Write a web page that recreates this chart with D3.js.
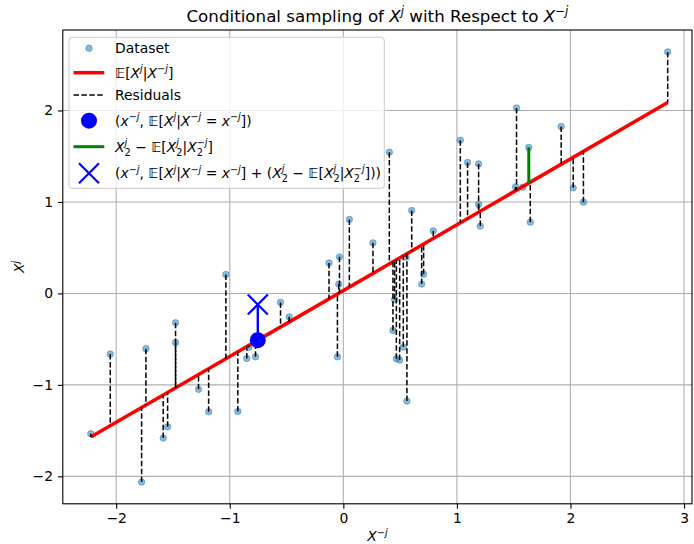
<!DOCTYPE html>
<html>
<head>
<meta charset="utf-8">
<script src="https://cdn.jsdelivr.net/npm/d3@7"></script>
<style>
  body { margin: 0; background: #fff; }
  text { font-family: "DejaVu Sans", sans-serif; }
</style>
</head>
<body>
<div id="chart"></div>
<script>
// Data
var xVals = [-2.224, -2.052, -1.776, -1.738, -1.586, -1.547, -1.477, -1.477, -1.275, -1.186,
             -1.034, -0.929, -0.850, -0.832, -0.773, -0.553, -0.477, -0.126, -0.052, -0.040,
             -0.034, 0.053, 0.261, 0.405, 0.437, 0.452, 0.467, 0.496, 0.528, 0.553,
             0.560, 0.602, 0.690, 0.707, 0.792, 1.030, 1.094, 1.191, 1.191, 1.206,
             1.516, 1.525, 1.581, 1.633, 1.646, 1.918, 2.024, 2.114, 2.856];
var yVals = [-1.534, -0.663, -2.062, -0.605, -1.581, -1.458, -0.321, -0.536, -1.049, -1.294,
             0.208, -1.290, -0.711, -0.590, -0.693, -0.098, -0.256, 0.334, -0.693, 0.102,
             0.400, 0.809, 0.553, 1.544, -0.404, -0.066, -0.714, -0.729, -0.587, 0.397,
             -1.177, 0.907, 0.102, 0.211, 0.684, 1.675, 1.432, 1.416, 0.973, 0.736,
             1.165, 2.028, 1.162, 1.596, 0.779, 1.825, 1.154, 0.998, 2.640];
// fitted conditional expectation line E[X^j | X^-j]
var fitSlope = 0.72, fitIntercept = 0.031;
var sampleIdx = 43;      // the X_2 point (green residual)
var queryX = -0.753;     // x^-j where we sample
var xTicks = [-2, -1, 0, 1, 2, 3];
var yTicks = [-2, -1, 0, 1, 2];

var legendLabels = [
    'Dataset',
    '$𝔼[X^{j}|X^{-j}]$',
    'Residuals',
    '$(x^{-j}, 𝔼[X^{j}|X^{-j} = x^{-j}])$',
    '$X_{2}^{j} - 𝔼[X_{2}^{j}|X_{2}^{-j}]$',
    '$(x^{-j}, 𝔼[X^{j}|X^{-j} = x^{-j}] + (X_{2}^{j} - 𝔼[X_{2}^{j}|X_{2}^{-j}]))$'
];

var W = 694, H = 544;
var pLeft = 62.8, pRight = 692, pTop = 30, pBottom = 503.8;

var svg = d3.select('#chart').append('svg')
    .attr('width', W).attr('height', H);

var x = d3.scaleLinear().domain([-2.47, 3.07]).range([pLeft, pRight]);
var y = d3.scaleLinear().domain([-2.30, 2.88]).range([pBottom, pTop]);

function fit(v) { return fitIntercept + fitSlope * v; }

// tiny mathtext-ish renderer: $...$ math, ^{} sup, _{} sub, letters italic
function renderMath(text, str, size) {
    var toks = [], math = false, i = 0;
    while (i < str.length) {
        var c = str[i];
        if (c === '$') { math = !math; i++; continue; }
        if (math && (c === '^' || c === '_')) {
            var k = str.indexOf('}', i + 2);
            toks.push({ t: str.slice(i + 2, k), kind: c === '^' ? 'sup' : 'sub', math: true });
            i = k + 1;
        } else {
            toks.push({ t: c, kind: 'base', math: math });
            i++;
        }
    }
    var off = 0, pendingDx = 0, lastW = 0;
    toks.forEach(function(tk, n) {
        var prev = toks[n - 1], next = toks[n + 1];
        var stacked = (tk.kind === 'sup' && prev && prev.kind === 'sub') ||
                      (tk.kind === 'sub' && next && next.kind === 'sup');
        var target = tk.kind === 'sup' ? (stacked ? -0.42 : -0.38) * size
                   : tk.kind === 'sub' ? (stacked ? 0.3 : 0.2) * size : 0;
        var fs = tk.kind === 'base' ? size : size * 0.7;
        var s = tk.math ? tk.t.replace(/-/g, '−') : tk.t;
        var runs = tk.math ? s.match(/[A-Za-z]+|[^A-Za-z]+/g) : [s];
        var dx = pendingDx;
        pendingDx = 0;
        if (tk.kind === 'sup' && prev && prev.kind === 'sub') dx -= lastW;
        var w = 0;
        runs.forEach(function(r, ri) {
            var ts = text.append('tspan')
                .attr('font-size', fs)
                .attr('font-style', tk.math && /[A-Za-z]/.test(r) ? 'italic' : 'normal')
                .text(r);
            if (ri === 0) {
                if (target !== off) ts.attr('dy', target - off);
                if (dx) ts.attr('dx', dx);
                off = target;
            }
            w += ts.node().getComputedTextLength();
        });
        if (tk.kind === 'sup' && prev && prev.kind === 'sub' && w < lastW) pendingDx = lastW - w;
        lastW = w;
    });
}

// grid
svg.append('g').selectAll('line').data(xTicks).enter().append('line')
    .attr('x1', function(d) { return x(d); }).attr('x2', function(d) { return x(d); })
    .attr('y1', pTop).attr('y2', pBottom)
    .attr('stroke', '#b0b0b0').attr('stroke-width', 1.1);
svg.append('g').selectAll('line').data(yTicks).enter().append('line')
    .attr('y1', function(d) { return y(d); }).attr('y2', function(d) { return y(d); })
    .attr('x1', pLeft).attr('x2', pRight)
    .attr('stroke', '#b0b0b0').attr('stroke-width', 1.1);

var plot = svg.append('g');
var idx = d3.range(xVals.length);

// dataset points
plot.append('g').selectAll('circle').data(idx).enter().append('circle')
    .attr('cx', function(i) { return x(xVals[i]); })
    .attr('cy', function(i) { return y(yVals[i]); })
    .attr('r', 3.2)
    .attr('fill', '#1f77b4').attr('fill-opacity', 0.5)
    .attr('stroke', '#1f77b4').attr('stroke-opacity', 0.5).attr('stroke-width', 1);

// conditional expectation line
var xs = d3.extent(xVals);
plot.append('path')
    .datum(xs)
    .attr('d', d3.line().x(function(d) { return x(d); }).y(function(d) { return y(fit(d)); }))
    .attr('stroke', 'red').attr('stroke-width', 3.5).attr('fill', 'none');

// residuals
plot.append('g').selectAll('line').data(idx).enter().append('line')
    .attr('x1', function(i) { return x(xVals[i]); })
    .attr('x2', function(i) { return x(xVals[i]); })
    .attr('y1', function(i) { return y(yVals[i]); })
    .attr('y2', function(i) { return y(fit(xVals[i])); })
    .attr('stroke', 'black').attr('stroke-width', 1.5)
    .attr('stroke-dasharray', '5.5,2.4');

// green residual of the sampled point
var resid = yVals[sampleIdx] - fit(xVals[sampleIdx]);
plot.append('line')
    .attr('x1', x(xVals[sampleIdx])).attr('x2', x(xVals[sampleIdx]))
    .attr('y1', y(yVals[sampleIdx])).attr('y2', y(fit(xVals[sampleIdx])))
    .attr('stroke', 'green').attr('stroke-width', 3);

// blue: conditional expectation at query and the new sample
var qy = fit(queryX), sy = qy + resid;
plot.append('line')
    .attr('x1', x(queryX)).attr('x2', x(queryX))
    .attr('y1', y(qy)).attr('y2', y(sy))
    .attr('stroke', 'blue').attr('stroke-width', 2.4);
plot.append('circle')
    .attr('cx', x(queryX)).attr('cy', y(qy)).attr('r', 8).attr('fill', 'blue');
function xMark(g, cx, cy, h) {
    g.append('path')
        .attr('d', 'M' + (cx - h) + ',' + (cy - h) + 'L' + (cx + h) + ',' + (cy + h) +
                   'M' + (cx - h) + ',' + (cy + h) + 'L' + (cx + h) + ',' + (cy - h))
        .attr('stroke', 'blue').attr('stroke-width', 2.2).attr('fill', 'none');
}
xMark(plot, x(queryX), y(sy), 10);

// frame
svg.append('rect')
    .attr('x', pLeft).attr('y', pTop).attr('width', pRight - pLeft).attr('height', pBottom - pTop)
    .attr('fill', 'none').attr('stroke', 'black').attr('stroke-width', 1.1);

// axes
var fmt = function(d) { return d < 0 ? '−' + Math.abs(d) : String(d); };
var gx = svg.append('g').attr('transform', 'translate(0,' + pBottom + ')')
    .call(d3.axisBottom(x).tickValues(xTicks).tickSize(4.9).tickPadding(4.9).tickFormat(fmt));
var gy = svg.append('g').attr('transform', 'translate(' + pLeft + ',0)')
    .call(d3.axisLeft(y).tickValues(yTicks).tickSize(4.9).tickPadding(4.9).tickFormat(fmt));
[gx, gy].forEach(function(g) {
    g.select('.domain').remove();
    g.selectAll('line').attr('stroke', 'black').attr('stroke-width', 1.1);
    g.selectAll('text').attr('font-family', '"DejaVu Sans", sans-serif')
        .attr('font-size', 13.9).attr('fill', 'black');
});

// title & labels
var title = svg.append('text').attr('x', (pLeft + pRight) / 2).attr('y', 21.7)
    .attr('text-anchor', 'middle');
renderMath(title, 'Conditional sampling of $X^{j}$ with Respect to $X^{-j}$', 16.7);
var xl = svg.append('text').attr('x', (pLeft + pRight) / 2).attr('y', 541)
    .attr('text-anchor', 'middle');
renderMath(xl, '$X^{-j}$', 13.9);
var yl = svg.append('text')
    .attr('transform', 'translate(24,' + ((pTop + pBottom) / 2) + ') rotate(-90)')
    .attr('text-anchor', 'middle');
renderMath(yl, '$X^{j}$', 13.9);

// legend
var lg = svg.append('g');
lg.append('rect')
    .attr('x', 69).attr('y', 37.3).attr('width', 315.3).attr('height', 151)
    .attr('rx', 3).attr('fill', 'white').attr('fill-opacity', 0.8)
    .attr('stroke', '#cccccc').attr('stroke-width', 1);
var rowY = [48.3, 72.7, 95, 120.7, 146.7, 173.3];
var hx0 = 73.5, hx1 = 104.3, hxm = 89;
lg.append('circle').attr('cx', hxm).attr('cy', rowY[0]).attr('r', 3.2)
    .attr('fill', '#1f77b4').attr('fill-opacity', 0.5)
    .attr('stroke', '#1f77b4').attr('stroke-opacity', 0.5);
lg.append('line').attr('x1', hx0).attr('x2', hx1).attr('y1', rowY[1]).attr('y2', rowY[1])
    .attr('stroke', 'red').attr('stroke-width', 3.5);
lg.append('line').attr('x1', hx0).attr('x2', hx1).attr('y1', rowY[2]).attr('y2', rowY[2])
    .attr('stroke', 'black').attr('stroke-width', 1.5).attr('stroke-dasharray', '5.5,2.4');
lg.append('circle').attr('cx', hxm).attr('cy', rowY[3]).attr('r', 8).attr('fill', 'blue');
lg.append('line').attr('x1', hx0).attr('x2', hx1).attr('y1', rowY[4]).attr('y2', rowY[4])
    .attr('stroke', 'green').attr('stroke-width', 3);
xMark(lg, hxm, rowY[5], 10);
legendLabels.forEach(function(s, i) {
    var t = lg.append('text').attr('x', 115).attr('y', rowY[i] + 5);
    renderMath(t, s, 13.9);
});
</script>
</body>
</html>
